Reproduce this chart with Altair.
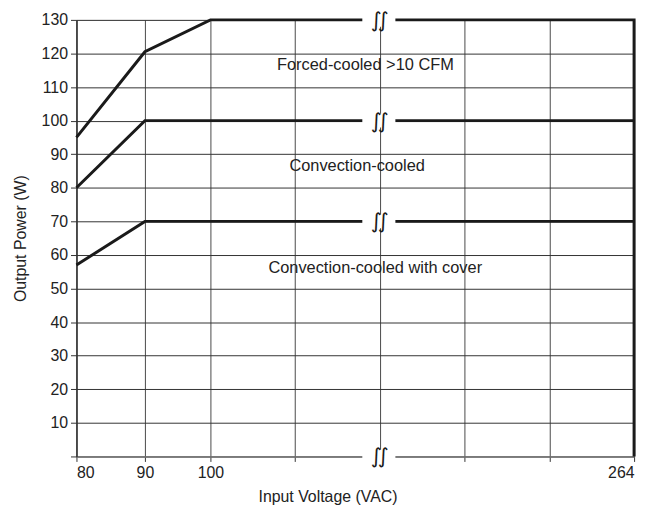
import altair as alt
import pandas as pd

# ---- data ----
series_names = ["Forced-cooled >10 CFM", "Convection-cooled", "Convection-cooled with cover"]
forced_v = [80, 90, 100, 264, 264]
forced_p = [95, 120.5, 130, 130, 0]
conv_v = [80, 90, 264]
conv_p = [80, 100, 100]
cover_v = [80, 90, 264]
cover_p = [57, 70, 70]

x_ticks = [80, 90, 100, 132.8, 165.6, 198.4, 231.2, 264]
x_labeled = [80, 90, 100, 264]
y_ticks = list(range(0, 140, 10))

label_x = [160, 156.8, 163.8]
label_y = [116.5, 86.5, 56]

break_x = 165.6
break_y = [130, 100, 70, 0]
gap_x0 = 158.8
gap_x1 = 171.6

FONT = "Liberation Sans"
FS = 16

rows = []
for name, vs, ps in [(series_names[0], forced_v, forced_p),
                     (series_names[1], conv_v, conv_p),
                     (series_names[2], cover_v, cover_p)]:
    for i, (v, p) in enumerate(zip(vs, ps)):
        rows.append({"series": name, "order": i, "v": v, "p": p})
lines_df = pd.DataFrame(rows)
labels_df = pd.DataFrame({"text": series_names, "v": label_x, "p": label_y})
breaks_df = pd.DataFrame({"v": [break_x] * len(break_y), "v0": [gap_x0] * len(break_y),
                          "v1": [gap_x1] * len(break_y), "p": break_y})

xscale = alt.Scale(domain=[80, 90, 100, 264], range=[0, 69, 135, 562])
yscale = alt.Scale(domain=[0, 130], nice=False, zero=False)

label_expr = "indexof([80, 90, 100, 264], datum.value) >= 0 ? format(datum.value, 'd') : ''"

x_axis = alt.Axis(values=x_ticks, labelExpr=label_expr, title="Input Voltage (VAC)",
                  grid=True, gridColor="#4a4a4a", gridWidth=1, gridOpacity=1,
                  domainColor="#777777", domainWidth=1.5, tickColor="#333333", tickSize=5,
                  labelFontSize=FS, labelFont=FONT, labelColor="#222222", labelPadding=3,
                  labelOverlap=False,
                  titleFontSize=FS, titleFont=FONT, titleFontWeight="normal", titleColor="#222222",
                  titleX=253, titlePadding=8, zindex=0)
y_axis = alt.Axis(values=y_ticks, labelExpr="datum.value == 0 ? '' : datum.label",
                  title="Output Power (W)", grid=True, gridColor="#333333", gridWidth=1, gridOpacity=1,
                  domainColor="#333333", domainWidth=1.5, tickColor="#333333", tickSize=6,
                  labelFontSize=FS, labelFont=FONT, labelColor="#222222", labelPadding=3,
                  labelOverlap=False,
                  titleFontSize=FS, titleFont=FONT, titleFontWeight="normal", titleColor="#222222",
                  titlePadding=13, zindex=0)

X = lambda f: alt.X(f, scale=xscale, axis=x_axis)
Y = lambda f: alt.Y(f, scale=yscale, axis=y_axis)

lines = alt.Chart(lines_df).mark_line(color="#1a1a1a", strokeWidth=3, strokeJoin="miter").encode(
    x=X("v:Q"),
    y=Y("p:Q"),
    detail="series:N",
    order="order:Q",
)

gaps = alt.Chart(breaks_df).mark_rule(color="white", strokeWidth=14).encode(
    x=X("v0:Q"),
    x2="v1:Q",
    y=Y("p:Q"),
)

def symbol_layer(dx):
    return alt.Chart(breaks_df).mark_text(text="∫", fontSize=21, font="DejaVu Sans",
                                          fontStyle="italic", color="#1a1a1a",
                                          baseline="middle", align="center", dx=dx, dy=1).encode(
        x=X("v:Q"),
        y=Y("p:Q"),
    )

texts = alt.Chart(labels_df).mark_text(fontSize=16.5, font=FONT, color="#222222",
                                       baseline="middle", align="center").encode(
    x=X("v:Q"),
    y=Y("p:Q"),
    text="text:N",
)

chart = alt.layer(lines, gaps, symbol_layer(-3.5), symbol_layer(3.5), texts).properties(
    width=562, height=440,
    padding={"left": 4, "top": 0, "right": 5, "bottom": 5},
).configure_view(strokeWidth=0).configure(background="white")

chart.save("out.html", embed_options={"renderer": "svg", "actions": False})
